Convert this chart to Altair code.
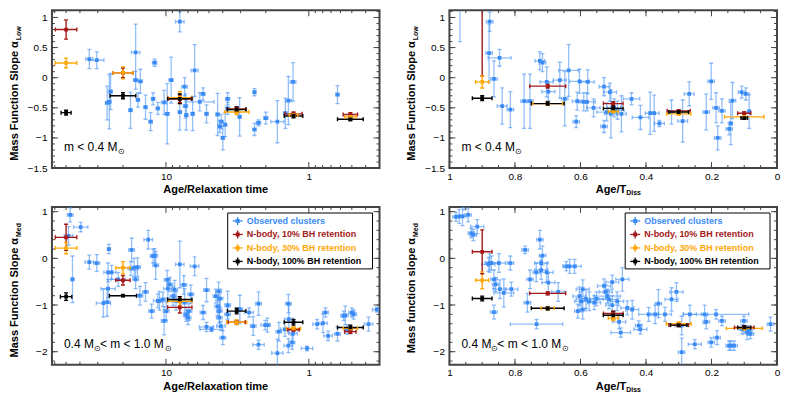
import altair as alt
import pandas as pd

W, H = 328, 158
FONT = "Liberation Sans"
BLUE = "#3b8bf5"
BAR_BLUE = "#4a94f5"
RED = "#a41a1a"
ORANGE = "#ffa80a"
BLACK = "#000000"
FRAME = "#444444"

# ---------------- N-body model positions ----------------
NB_X_RELAX = [50, 20, 8, 3.2, 1.28, 0.512]
NB_X_DISS = [0.9, 0.7, 0.5, 0.3, 0.1]

# top-left: alpha_low vs age/trh   (y, yerr, xerr[dex])
TL_RED_Y = [0.80, 0.08, -0.35, -0.52, -0.60, -0.61]
TL_RED_YE = [0.16, 0.08, 0.06, 0.04, 0.03, 0.03]
TL_RED_XE = [0.075, 0.07, 0.08, 0.065, 0.06, 0.05]
TL_ORA_Y = [0.245, 0.08, -0.33, -0.57, -0.62, -0.65]
TL_ORA_YE = [0.08, 0.10, 0.10, 0.04, 0.02, 0.02]
TL_ORA_XE = [0.075, 0.07, 0.085, 0.085, 0.03, 0.04]
TL_BLK_Y = [-0.58, -0.30, -0.35, -0.53, -0.635, -0.69]
TL_BLK_YE = [0.04, 0.05, 0.08, 0.04, 0.03, 0.02]
TL_BLK_XE = [0.035, 0.09, 0.085, 0.065, 0.065, 0.09]

# top-right: alpha_low vs age/Tdiss
TR_RED_Y = [1.60, -0.14, -0.43, -0.55, -0.59]
TR_RED_YE = [1.57, 0.03, 0.03, 0.02, 0.02]
TR_RED_XE = [0.02, 0.055, 0.03, 0.035, 0.02]
TR_ORA_Y = [-0.07, -0.43, -0.56, -0.60, -0.65]
TR_ORA_YE = [0.10, 0.03, 0.02, 0.02, 0.02]
TR_ORA_XE = [0.02, 0.045, 0.015, 0.037, 0.06]
TR_BLK_Y = [-0.34, -0.43, -0.51, -0.57, -0.67]
TR_BLK_YE = [0.04, 0.03, 0.04, 0.02, 0.02]
TR_BLK_XE = [0.03, 0.05, 0.03, 0.03, 0.01]

# bottom-left: alpha_med vs age/trh
BL_RED_Y = [0.45, -0.47, -1.05, -1.37, -1.53, -1.57]
BL_RED_YE = [0.28, 0.10, 0.12, 0.04, 0.03, 0.04]
BL_RED_XE = [0.075, 0.05, 0.085, 0.06, 0.04, 0.04]
BL_ORA_Y = [0.22, -0.20, -0.92, -1.37, -1.50, -1.50]
BL_ORA_YE = [0.12, 0.13, 0.10, 0.05, 0.03, 0.03]
BL_ORA_XE = [0.075, 0.05, 0.085, 0.07, 0.05, 0.05]
BL_BLK_Y = [-0.82, -0.80, -0.88, -1.13, -1.37, -1.48]
BL_BLK_YE = [0.08, 0.02, 0.06, 0.06, 0.06, 0.05]
BL_BLK_XE = [0.04, 0.095, 0.085, 0.065, 0.065, 0.09]

# bottom-right: alpha_med vs age/Tdiss
BR_RED_Y = [0.14, -0.75, -1.18, -1.43, -1.48]
BR_RED_YE = [0.47, 0.03, 0.05, 0.03, 0.03]
BR_RED_XE = [0.03, 0.055, 0.03, 0.03, 0.03]
BR_ORA_Y = [-0.47, -1.07, -1.28, -1.40, -1.50]
BR_ORA_YE = [0.18, 0.03, 0.05, 0.04, 0.03]
BR_ORA_XE = [0.02, 0.02, 0.015, 0.038, 0.055]
BR_BLK_Y = [-0.86, -1.07, -1.22, -1.43, -1.48]
BR_BLK_YE = [0.05, 0.03, 0.08, 0.03, 0.03]
BR_BLK_XE = [0.03, 0.05, 0.03, 0.025, 0.02]

# ---------------- observed clusters ----------------
TL_X = [34.4, 30.5, 25.8, 24.9, 24.4, 17.7, 16.3, 16.3, 15.7, 15.1, 13.9, 12.8, 12.3, 12.0, 11.4,
        10.3, 9.8, 9.2, 8.0, 8.0, 7.4, 7.3, 7.2, 6.5, 6.3, 5.5, 5.2, 5.8, 4.35, 4.2, 4.1, 4.0, 3.85,
        3.7, 3.7, 3.05, 2.4, 2.4, 2.25, 2.0, 1.66, 1.46, 1.39, 1.29, 0.63]
TL_Y = [0.31, 0.29, -0.42, -0.40, -0.23, -0.54, 0.42, -0.04, -0.37, -0.06, -0.49, -0.73, -0.35, 0.25,
        -0.51, -0.41, -0.60, -0.04, 0.93, -0.57, -0.15, -0.47, -0.62, -0.60, 0.12, -0.27, -0.60, -0.40,
        -0.61, -0.81, -0.73, -1.00, -0.78, -0.51, -0.35, -0.65, -0.24, -0.86, -0.75, -0.67, -0.73,
        -0.59, -0.38, -0.07, -0.28]
TL_XE = [0.025, 0.05, 0.012, 0.012, 0.012, 0.012, 0.03, 0.015, 0.012, 0.015, 0.012, 0.012, 0.012,
         0.015, 0.012, 0.02, 0.015, 0.015, 0.03, 0.012, 0.02, 0.015, 0.012, 0.012, 0.025, 0.015, 0.012,
         0.1, 0.012, 0.012, 0.015, 0.012, 0.012, 0.015, 0.015, 0.012, 0.01, 0.012, 0.015, 0.015, 0.045,
         0.012, 0.02, 0.02, 0.012]
TL_YE = [0.16, 0.14, 0.28, 0.45, 0.3, 0.3, 0.47, 0.15, 0.12, 0.2, 0.2, 0.15, 0.1, 0.06, 0.1, 0.2, 0.5,
         0.38, 0.17, 0.3, 0.15, 0.2, 0.25, 0.28, 0.43, 0.1, 0.15, 0.15, 0.35, 0.1, 0.12, 0.2, 0.2, 0.1,
         0.1, 0.32, 0.06, 0.1, 0.05, 0.1, 0.35, 0.25, 0.4, 0.32, 0.15]

TR_X = [0.968, 0.877, 0.879, 0.847, 0.864, 0.839, 0.814, 0.772, 0.754, 0.724, 0.716, 0.703, 0.698,
        0.663, 0.648, 0.636, 0.613, 0.61, 0.603, 0.59, 0.578, 0.58, 0.56, 0.528, 0.528, 0.52, 0.51,
        0.507, 0.497, 0.487, 0.475, 0.444, 0.417, 0.387, 0.375, 0.359, 0.322, 0.288, 0.268, 0.216,
        0.201, 0.186, 0.181, 0.168, 0.146, 0.141, 0.136, 0.108, 0.095, 0.085]
TR_Y = [1.30, 0.93, 0.41, 0.33, -0.02, -0.47, -0.53, -0.39, -0.39, 0.28, 0.25, -0.07, -0.23, -0.04,
        -0.35, 0.12, -0.73, -0.39, -0.06, -0.40, -0.07, -0.40, -0.50, -0.15, -0.81, -0.57, -0.24,
        -0.60, -0.50, -0.54, -0.60, -0.35, -0.66, -0.59, -0.59, -0.76, -0.57, -0.72, -0.27, -0.57,
        -0.06, -0.50, -1.00, -0.55, -0.85, -0.76, -0.38, -0.24, -0.27, -0.56]
TR_XE = [0.003, 0.01, 0.01, 0.035, 0.01, 0.015, 0.01, 0.01, 0.01, 0.015, 0.01, 0.02, 0.02, 0.02, 0.01,
         0.03, 0.01, 0.015, 0.03, 0.01, 0.02, 0.025, 0.02, 0.015, 0.01, 0.03, 0.02, 0.02, 0.02, 0.02,
         0.015, 0.025, 0.025, 0.015, 0.015, 0.015, 0.015, 0.015, 0.015, 0.01, 0.01, 0.01, 0.01, 0.01,
         0.01, 0.005, 0.01, 0.01, 0.01, 0.005]
TR_YE = [0.7, 0.16, 0.48, 0.14, 0.3, 0.3, 0.3, 0.45, 0.45, 0.15, 0.15, 0.25, 0.15, 0.3, 0.45, 0.43,
         0.1, 0.15, 0.2, 0.15, 0.2, 0.15, 0.15, 0.15, 0.1, 0.15, 0.15, 0.4, 0.15, 0.15, 0.3, 0.1, 0.2,
         0.35, 0.3, 0.05, 0.2, 0.35, 0.2, 0.3, 0.3, 0.25, 0.2, 0.2, 0.1, 0.35, 0.3, 0.1, 0.1, 0.28]

BL_X = [46.8, 48.1, 39.5, 45.1, 34.4, 30.5, 27.4, 25.8, 25.4, 25.4, 25.1, 24.0, 21.6, 17.6, 17.4,
        16.7, 16.3, 15.8, 15.2, 13.9, 13.3, 12.6, 12.3, 12.0, 11.8, 11.4, 11.1, 10.5, 10.3, 9.95, 9.8,
        9.7, 9.4, 8.9, 8.7, 8.5, 8.0, 7.5, 7.4, 7.2, 7.0, 6.9, 6.7, 6.3, 5.5, 5.2, 5.2, 4.8, 4.47,
        4.35, 4.28, 4.23, 4.23, 4.18, 4.12, 4.0, 3.7, 3.7, 3.04, 2.62, 2.45, 2.25, 2.25, 2.02, 1.95,
        1.66, 1.62, 1.47, 1.39, 1.39, 1.38, 1.31, 1.29, 1.03, 0.875, 0.795, 0.765, 0.733, 0.63, 0.57,
        0.556, 0.541, 0.50, 0.486, 0.382, 0.334]
BL_Y = [0.93, 0.48, 0.67, -0.45, -0.08, -0.10, -0.96, -0.94, -0.30, -0.65,
        0.20, -0.30, -0.45, -0.22, 0.18, -0.20, -0.45, -0.19, -0.80, -0.72,
        0.40, -1.13, 0.05, 0.06, -0.15, -0.91, -0.91, -0.88, -1.34, -1.13,
        -0.46, -0.65, -0.56, -0.81, -0.67, -0.91, -0.13, -0.57, -0.95, -1.20,
        -1.27, -1.13, -0.77, -0.17, -1.16, -0.68, -1.47, -1.52, -0.81, -1.03,
        -0.71, -1.13, -1.27, -0.86, -1.45, -1.70, -1.20, -1.00, -1.09, -1.16,
        -1.45, -0.97, -1.85, -1.43, -1.43, -2.03, -1.57, -1.52, -0.97, -1.87,
        -1.30, -1.80, -1.61, -1.93, -1.41, -1.39, -1.16, -1.66, -1.62, -1.23,
        -1.22, -1.52, -1.16, -1.20, -1.41, -1.10]
BL_YE = [0.15, 0.2, 0.1, 0.5, 0.15, 0.18, 0.3, 0.3, 0.2, 0.2,
         0.1, 0.15, 0.15, 0.15, 0.25, 0.2, 0.2, 0.2, 0.2, 0.2,
         0.2, 0.15, 0.15, 0.15, 0.3, 0.15, 0.2, 0.15, 0.3, 0.2,
         0.2, 0.2, 0.15, 0.2, 0.2, 0.2, 0.5, 0.2, 0.3, 0.15,
         0.15, 0.2, 0.2, 0.2, 0.15, 0.25, 0.1, 0.05, 0.15, 0.2,
         0.2, 0.25, 0.2, 0.2, 0.1, 0.15, 0.15, 0.3, 0.3, 0.1,
         0.2, 0.25, 0.1, 0.1, 0.15, 0.3, 0.2, 0.15, 0.2, 0.15,
         0.3, 0.15, 0.2, 0.05, 0.1, 0.2, 0.1, 0.1, 0.15, 0.1,
         0.2, 0.1, 0.1, 0.1, 0.15, 0.05]
BL_XE = [0.02, 0.03, 0.05, 0.01, 0.03, 0.02, 0.05, 0.02, 0.03, 0.05,
         0.01, 0.03, 0.05, 0.02, 0.02, 0.03, 0.02, 0.02, 0.02, 0.02,
         0.03, 0.02, 0.02, 0.02, 0.02, 0.03, 0.02, 0.02, 0.02, 0.02,
         0.02, 0.03, 0.02, 0.02, 0.02, 0.03, 0.03, 0.02, 0.02, 0.02,
         0.02, 0.02, 0.02, 0.03, 0.02, 0.02, 0.05, 0.08, 0.02, 0.02,
         0.02, 0.02, 0.02, 0.02, 0.03, 0.02, 0.02, 0.02, 0.02, 0.03,
         0.02, 0.02, 0.04, 0.03, 0.02, 0.04, 0.02, 0.03, 0.02, 0.03,
         0.03, 0.02, 0.03, 0.04, 0.03, 0.03, 0.02, 0.03, 0.02, 0.02,
         0.02, 0.02, 0.02, 0.02, 0.03, 0.03]

BR_X = [0.98, 0.97, 0.96, 0.943, 0.955, 0.933, 0.927, 0.915, 0.881, 0.877,
        0.872, 0.864, 0.859, 0.864, 0.849, 0.846, 0.834, 0.814, 0.811, 0.769,
        0.762, 0.754, 0.734, 0.735, 0.724, 0.716, 0.72, 0.72, 0.703, 0.698,
        0.668, 0.643, 0.633, 0.618, 0.608, 0.603, 0.598, 0.593, 0.593, 0.583,
        0.573, 0.558, 0.551, 0.528, 0.523, 0.518, 0.513, 0.503, 0.503, 0.488,
        0.482, 0.477, 0.472, 0.457, 0.442, 0.422, 0.417, 0.392, 0.372, 0.362,
        0.342, 0.322, 0.307, 0.291, 0.291, 0.266, 0.251, 0.221, 0.216, 0.201,
        0.186, 0.183, 0.168, 0.146, 0.141, 0.131, 0.106, 0.101, 0.091, 0.086,
        0.081, 0.020]
BR_Y = [0.89, 0.90, 0.90, 0.93, 1.14, 0.54, 0.50, 0.68, -0.13, -0.10,
        -0.10, -0.45, -0.56, -1.15, -0.10, -0.66, -0.74, -0.10, -0.66, 0.18,
        -0.95, -0.45, -1.41, -0.30, 0.40, 0.06, -0.10, -0.25, -0.30, -0.52,
        -0.72, -0.17, -0.17, -0.17, -1.13, -0.81, -0.92, -0.66, -1.10, -0.87,
        -0.92, -0.95, -0.87, -0.59, -0.72, -0.81, -0.88, -1.00, -0.51, -0.92,
        -1.36, -1.59, -0.45, -1.06, -1.10, -1.44, -1.52, -1.20, -1.20, -0.97,
        -1.20, -0.88, -0.72, -2.01, -1.44, -1.20, -1.84, -1.20, -1.36, -1.80,
        -1.20, -1.70, -1.34, -1.87, -1.87, -1.87, -1.52, -1.34, -1.59, -1.55,
        -1.62, -1.41]
BR_YE = [0.1, 0.15, 0.2, 0.15, 0.1, 0.1, 0.12, 0.15, 0.15, 0.2,
         0.15, 0.2, 0.15, 0.15, 0.2, 0.2, 0.3, 0.15, 0.15, 0.08,
         0.2, 0.2, 0.1, 0.2, 0.2, 0.2, 0.15, 0.2, 0.2, 0.2,
         0.2, 0.1, 0.15, 0.15, 0.15, 0.2, 0.2, 0.2, 0.2, 0.2,
         0.2, 0.15, 0.15, 0.15, 0.15, 0.15, 0.2, 0.2, 0.15, 0.2,
         0.15, 0.1, 0.25, 0.15, 0.2, 0.1, 0.1, 0.15, 0.2, 0.3,
         0.15, 0.25, 0.2, 0.3, 0.2, 0.2, 0.1, 0.2, 0.15, 0.1,
         0.1, 0.15, 0.1, 0.1, 0.1, 0.1, 0.1, 0.1, 0.15, 0.1,
         0.1, 0.15]
BR_XE = [0.01, 0.01, 0.01, 0.01, 0.005, 0.01, 0.01, 0.02, 0.02, 0.01,
         0.02, 0.01, 0.01, 0.01, 0.02, 0.02, 0.03, 0.01, 0.02, 0.01,
         0.01, 0.01, 0.08, 0.01, 0.01, 0.01, 0.02, 0.02, 0.02, 0.02,
         0.02, 0.01, 0.02, 0.02, 0.01, 0.02, 0.02, 0.02, 0.01, 0.03,
         0.02, 0.02, 0.02, 0.02, 0.02, 0.04, 0.03, 0.02, 0.02, 0.02,
         0.02, 0.03, 0.02, 0.02, 0.02, 0.01, 0.02, 0.03, 0.01, 0.01,
         0.02, 0.02, 0.02, 0.01, 0.02, 0.02, 0.02, 0.01, 0.01, 0.01,
         0.1, 0.01, 0.01, 0.01, 0.01, 0.01, 0.01, 0.01, 0.01, 0.01,
         0.01, 0.01]

# ---------------- axes ----------------
LOG_LABELS = [10, 1]
LOG_MINOR = [20, 30, 40, 50, 60, 2, 3, 4, 5, 6, 7, 8, 9, 0.4, 0.5, 0.6, 0.7, 0.8, 0.9]
LIN_LABELS = [0, 0.2, 0.4, 0.6, 0.8, 1]
LIN_MINOR = [round(0.05 * i, 2) for i in range(21)]
YTOP_LABELS = [-1.5, -1, -0.5, 0, 0.5, 1]
YTOP_MINOR = [round(-1.5 + 0.1 * i, 2) for i in range(27)]
YBOT_LABELS = [-2, -1, 0, 1]
YBOT_MINOR = [round(-2.2 + 0.2 * i, 2) for i in range(17)]

LEGEND_LABELS = ["Observed clusters", "N-body, 10% BH retention",
                 "N-body, 30% BH retention", "N-body, 100% BH retention"]
LEGEND_COLORS = [BLUE, RED, ORANGE, BLACK]


def frame_df(x, y, xe, ye, log):
    d = pd.DataFrame({"x": x, "y": y, "xe": xe, "ye": ye})
    if log:
        d["xlo"] = d["x"] / 10 ** d["xe"]
        d["xhi"] = d["x"] * 10 ** d["xe"]
    else:
        d["xlo"] = d["x"] - d["xe"]
        d["xhi"] = d["x"] + d["xe"]
    d["ylo"] = d["y"] - d["ye"]
    d["yhi"] = d["y"] + d["ye"]
    return d


def txt(s, x, y, size=11, weight="bold", color="black", align="left", baseline="middle", angle=None):
    kw = dict(fontSize=size, fontWeight=weight, color=color, align=align, baseline=baseline, font=FONT)
    if angle is not None:
        kw["angle"] = angle
    return alt.Chart(pd.DataFrame({"t": [s]})).mark_text(**kw).encode(
        x=alt.value(x), y=alt.value(y), text="t:N")


def panel(obs, nb_x, nb, log, ytop, ytitle, ysub, xtitle, xsub, mass_parts, legend):
    if log:
        xs = alt.Scale(type="log", domain=[0.32, 62.8], reverse=True, nice=False)
        xlab, xmin = LOG_LABELS, LOG_MINOR
    else:
        xs = alt.Scale(domain=[0, 1], reverse=True, nice=False, zero=False)
        xlab, xmin = LIN_LABELS, LIN_MINOR
    if ytop:
        ys = alt.Scale(domain=[-1.5, 1.12], nice=False, zero=False)
        ylab, ymin = YTOP_LABELS, YTOP_MINOR
    else:
        ys = alt.Scale(domain=[-2.28, 1.1], nice=False, zero=False)
        ylab, ymin = YBOT_LABELS, YBOT_MINOR

    ax = alt.Axis(values=xlab, format="~g", labelFlush=False, ticks=False, domain=False, grid=False,
                  title=None, labelPadding=3, labelOverlap=False)
    ay = alt.Axis(values=ylab, format="~g", ticks=False, domain=False, grid=False, title=None,
                  labelPadding=5, labelOverlap=False)
    X = lambda f: alt.X(f + ":Q", scale=xs, axis=ax)
    Y = lambda f: alt.Y(f + ":Q", scale=ys, axis=ay)

    def errbars(d, color, opacity, sw, cap):
        b = alt.Chart(d)
        rk = dict(strokeWidth=sw, opacity=opacity, clip=True)
        tk = dict(size=cap, thickness=sw, opacity=opacity, clip=True)
        return [
            b.mark_rule(**rk).encode(x=X("x"), y=Y("ylo"), y2="yhi:Q", color=color),
            b.mark_rule(**rk).encode(x=X("xlo"), x2="xhi:Q", y=Y("y"), color=color),
            b.mark_tick(orient="horizontal", **tk).encode(x=X("x"), y=Y("ylo"), color=color),
            b.mark_tick(orient="horizontal", **tk).encode(x=X("x"), y=Y("yhi"), color=color),
            b.mark_tick(orient="vertical", **tk).encode(x=X("xlo"), y=Y("y"), color=color),
            b.mark_tick(orient="vertical", **tk).encode(x=X("xhi"), y=Y("y"), color=color),
        ]

    layers = []
    od = frame_df(*obs, log)
    layers += errbars(od, alt.value(BAR_BLUE), 0.6, 1.3, 4)
    layers.append(alt.Chart(od).mark_square(size=14, opacity=1, clip=True).encode(
        x=X("x"), y=Y("y"), color=alt.value(BLUE)))

    frames = []
    for key, (yy, ye, xe) in zip(["r", "o", "k"], nb):
        f = frame_df(nb_x, yy, xe, ye, log)
        f["s"] = key
        frames.append(f)
    nd = pd.concat(frames, ignore_index=True)
    cenc = alt.Color("s:N", scale=alt.Scale(domain=["r", "o", "k"], range=[RED, ORANGE, BLACK]), legend=None)
    layers += errbars(nd, cenc, 1.0, 1.4, 4)
    layers.append(alt.Chart(nd).mark_square(size=14, opacity=1, clip=True).encode(
        x=X("x"), y=Y("y"), color=cenc))

    # inward ticks on all four sides
    for vals, L in ((xlab, 6), (xmin, 3)):
        c = alt.Chart(pd.DataFrame({"v": vals}))
        layers.append(c.mark_rule(color=FRAME, strokeWidth=1).encode(x=X("v"), y=alt.value(0), y2=alt.value(L)))
        layers.append(c.mark_rule(color=FRAME, strokeWidth=1).encode(x=X("v"), y=alt.value(H), y2=alt.value(H - L)))
    for vals, L in ((ylab, 6), (ymin, 3)):
        c = alt.Chart(pd.DataFrame({"v": vals}))
        layers.append(c.mark_rule(color=FRAME, strokeWidth=1).encode(y=Y("v"), x=alt.value(0), x2=alt.value(L)))
        layers.append(c.mark_rule(color=FRAME, strokeWidth=1).encode(y=Y("v"), x=alt.value(W), x2=alt.value(W - L)))

    # titles
    layers.append(txt(ytitle, -37, 31, align="right", angle=270))
    layers.append(txt(ysub, -33, 30, size=7, align="left", angle=270))
    if xsub:
        layers.append(txt(xtitle, W / 2 + 13, H + 22, align="right"))
        layers.append(txt(xsub, W / 2 + 13, H + 25, size=7, align="left"))
    else:
        layers.append(txt(xtitle, W / 2, H + 22, align="center"))

    for s, xo, sub in mass_parts:
        if sub:
            layers.append(txt(s, xo, H - 14, size=8, weight="normal", baseline="alphabetic"))
        else:
            layers.append(txt(s, xo, H - 17, size=12, weight="normal", baseline="alphabetic"))

    if legend:
        one = alt.Chart(pd.DataFrame({"t": [0]}))
        layers.append(one.mark_rect(fill="white", stroke="black", strokeWidth=1).encode(
            x=alt.value(W - 152), x2=alt.value(W - 7), y=alt.value(6), y2=alt.value(62)))
        sx = W - 142
        for i, (lab, col) in enumerate(zip(LEGEND_LABELS, LEGEND_COLORS)):
            ry = 14 + 13.5 * i
            layers.append(one.mark_rule(color=col, strokeWidth=1.3).encode(
                x=alt.value(sx - 5), x2=alt.value(sx + 5), y=alt.value(ry)))
            layers.append(one.mark_rule(color=col, strokeWidth=1.3).encode(
                x=alt.value(sx), y=alt.value(ry - 4), y2=alt.value(ry + 4)))
            layers.append(one.mark_square(color=col, size=16, opacity=1).encode(
                x=alt.value(sx), y=alt.value(ry)))
            layers.append(txt(lab, sx + 9, ry, size=9, weight="bold", color=col))

    return alt.layer(*layers).properties(width=W, height=H)


MASS_LOW = [("m < 0.4 M", 12, False), ("\u2299", 66, True)]
MASS_MED = [("0.4 M", 12, False), ("\u2299", 42, True), ("< m < 1.0 M", 48, False), ("\u2299", 113, True)]

tl = panel((TL_X, TL_Y, TL_XE, TL_YE), NB_X_RELAX,
           [(TL_RED_Y, TL_RED_YE, TL_RED_XE), (TL_ORA_Y, TL_ORA_YE, TL_ORA_XE), (TL_BLK_Y, TL_BLK_YE, TL_BLK_XE)],
           True, True, "Mass Function Slope \u03b1", "Low", "Age/Relaxation time", None, MASS_LOW, False)
tr = panel((TR_X, TR_Y, TR_XE, TR_YE), NB_X_DISS,
           [(TR_RED_Y, TR_RED_YE, TR_RED_XE), (TR_ORA_Y, TR_ORA_YE, TR_ORA_XE), (TR_BLK_Y, TR_BLK_YE, TR_BLK_XE)],
           False, True, "Mass Function Slope \u03b1", "Low", "Age/T", "Diss", MASS_LOW, False)
bl = panel((BL_X, BL_Y, BL_XE, BL_YE), NB_X_RELAX,
           [(BL_RED_Y, BL_RED_YE, BL_RED_XE), (BL_ORA_Y, BL_ORA_YE, BL_ORA_XE), (BL_BLK_Y, BL_BLK_YE, BL_BLK_XE)],
           True, False, "Mass Function Slope \u03b1", "Med", "Age/Relaxation time", None, MASS_MED, True)
br = panel((BR_X, BR_Y, BR_XE, BR_YE), NB_X_DISS,
           [(BR_RED_Y, BR_RED_YE, BR_RED_XE), (BR_ORA_Y, BR_ORA_YE, BR_ORA_XE), (BR_BLK_Y, BR_BLK_YE, BR_BLK_XE)],
           False, False, "Mass function slope \u03b1", "Med", "Age/T", "Diss", MASS_MED, True)

chart = alt.vconcat(
    alt.hconcat(tl, tr, spacing=24),
    alt.hconcat(bl, br, spacing=24),
    spacing=8,
).properties(padding=0).configure_view(
    stroke=FRAME, strokeWidth=2
).configure_axis(labelFont=FONT, labelFontSize=10, labelColor="black")

chart.save("out.html", embed_options={"renderer": "svg", "actions": False})
